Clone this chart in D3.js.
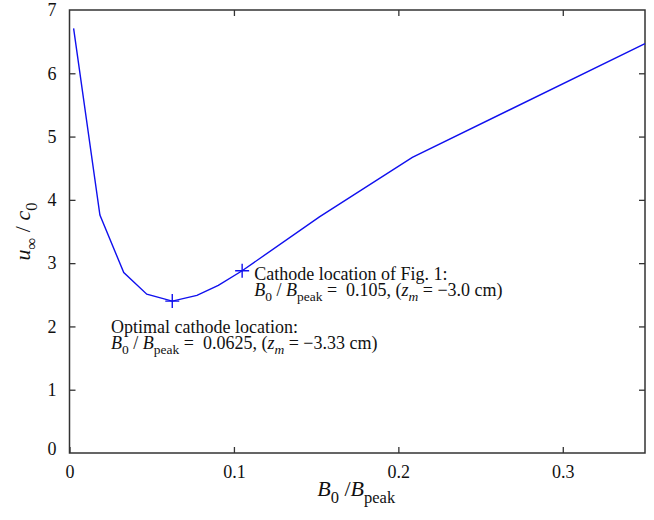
<!DOCTYPE html>
<html>
<head>
<meta charset="utf-8">
<script src="https://cdn.jsdelivr.net/npm/d3@7"></script>
<style>
  body { margin: 0; background: #fff; }
  svg, svg text, svg tspan { font-family: "Liberation Serif", "DejaVu Serif", serif !important; }
</style>
</head>
<body>
<div id="chart"></div>
<script>
const width = 654;
const height = 520;
const margin = {top: 10, right: 9, bottom: 67, left: 69.5};

// curve B0/Bpeak vs u_inf/c0
var ratio = [0.0025, 0.0185, 0.033, 0.047, 0.0625, 0.0775, 0.0905, 0.105, 0.152, 0.2085, 0.35];
var speed = [6.71, 3.76, 2.85, 2.51, 2.40, 2.49, 2.65, 2.88, 3.73, 4.67, 6.47];

// marked cathode locations
var markRatio = [0.0625, 0.105];
var markSpeed = [2.40, 2.88];

var xTicks = [0, 0.1, 0.2, 0.3];
var yTicks = [0, 1, 2, 3, 4, 5, 6, 7];

var lineColor = '#1010ee';
var frameColor = '#333';

var svg = d3.select("#chart").append("svg")
  .attr("width", width)
  .attr("height", height);

var x = d3.scaleLinear().domain([0, 0.35]).range([margin.left, width - margin.right]);
var y = d3.scaleLinear().domain([0, 7]).range([height - margin.bottom, margin.top]);

var fs = 18;

// ticks inside, mirrored on all sides
var bottomAxis = d3.axisBottom(x).tickValues(xTicks).tickSizeInner(-6).tickSizeOuter(0)
  .tickFormat(d => d === 0 ? "0" : d3.format(".1f")(d)).tickPadding(12);
var topAxis = d3.axisTop(x).tickValues(xTicks.slice(1)).tickSizeInner(-6).tickSizeOuter(0).tickFormat("");
var leftAxis = d3.axisLeft(y).tickValues(yTicks).tickSizeInner(-6).tickSizeOuter(0)
  .tickFormat(d3.format("d")).tickPadding(13);
var rightAxis = d3.axisRight(y).tickValues(yTicks.slice(1, -1)).tickSizeInner(-6).tickSizeOuter(0).tickFormat("");

function styleAxis(g) {
  g.attr("font-family", null);
  g.select(".domain").remove();
  g.selectAll(".tick line").attr("stroke", frameColor).attr("stroke-width", 1.3);
  g.selectAll(".tick text").attr("font-size", fs).attr("fill", "#111");
}

svg.append("g").attr("transform", "translate(0," + y(0) + ")").call(bottomAxis).call(styleAxis);
svg.append("g").attr("transform", "translate(0," + y(7) + ")").call(topAxis).call(styleAxis);
var gl = svg.append("g").attr("transform", "translate(" + x(0) + ",0)").call(leftAxis).call(styleAxis);
svg.append("g").attr("transform", "translate(" + x(0.35) + ",0)").call(rightAxis).call(styleAxis);

gl.selectAll(".tick").filter(d => d === 0 || d === 7).select("line").remove();
gl.selectAll(".tick").filter(d => d === 0).select("text").attr("dy", "0.1em");

// frame
svg.append("rect")
  .attr("x", x(0)).attr("y", y(7))
  .attr("width", x(0.35) - x(0)).attr("height", y(0) - y(7))
  .attr("fill", "none").attr("stroke", frameColor).attr("stroke-width", 1.5);

// curve
var line = d3.line().x((d, i) => x(ratio[i])).y((d, i) => y(speed[i]));
svg.append("path")
  .datum(ratio)
  .attr("d", line)
  .attr("fill", "none")
  .attr("stroke", lineColor)
  .attr("stroke-width", 1.4);

// plus markers
svg.append("g").selectAll("path")
  .data(markRatio)
  .enter()
  .append("path")
  .attr("d", function(d, i) {
    var cx = x(d), cy = y(markSpeed[i]), s = 7;
    return "M" + (cx - s) + "," + cy + "H" + (cx + s) + "M" + cx + "," + (cy - s) + "V" + (cy + s);
  })
  .attr("stroke", lineColor)
  .attr("stroke-width", 1.4);

// rich text helper: segments [text, style] where style: i = italic, s = subscript
function richText(parent, px, py, segs, size) {
  var t = parent.append("text").attr("x", px).attr("y", py)
    .attr("font-size", size).attr("fill", "#111");
  var sub = false;
  segs.forEach(function(s) {
    var ts = t.append("tspan").text(s[0]);
    var st = s[1] || "";
    if (st.indexOf("i") >= 0) ts.attr("font-style", "italic");
    if (st.indexOf("s") >= 0) {
      ts.attr("font-size", size * 0.75);
      if (!sub) ts.attr("dy", size * 0.3);
      sub = true;
    } else if (sub) {
      ts.attr("dy", -size * 0.3);
      sub = false;
    }
  });
  return t;
}

var ratioLabel = function(val, zm) {
  return [["B", "i"], ["0", "s"], [" / "], ["B", "i"], ["peak", "s"], ["\u00A0=\u00A0 " + val + ", ("],
          ["z", "i"], ["m", "is"], [" = \u2212" + zm + " cm)"]];
};

svg.append("text").attr("x", x(0.105) + 12).attr("y", 280).attr("font-size", fs).attr("fill", "#111")
  .text("Cathode location of Fig. 1:");
richText(svg, x(0.105) + 12, 296, ratioLabel("0.105", "3.0"), fs);

svg.append("text").attr("x", 111).attr("y", 333).attr("font-size", fs).attr("fill", "#111")
  .text("Optimal cathode location:");
richText(svg, 111, 349, ratioLabel("0.0625", "3.33"), fs);

// axis labels
var xl = richText(svg, 0, 0, [["B", "i"], ["0", "s"], [" /"], ["B", "i"], ["peak", "s"]], 22);
xl.attr("x", null).attr("y", null)
  .attr("transform", "translate(" + (x(0.175) - 40) + "," + 496 + ")");

var yl = richText(svg, 0, 0, [["u", "i"], ["\u221E", "s"], [" / "], ["c", "i"], ["0", "s"]], 22);
yl.attr("x", null).attr("y", null)
  .attr("text-anchor", "middle")
  .attr("transform", "translate(30," + ((y(0) + y(7)) / 2) + ") rotate(-90)");
</script>
</body>
</html>
